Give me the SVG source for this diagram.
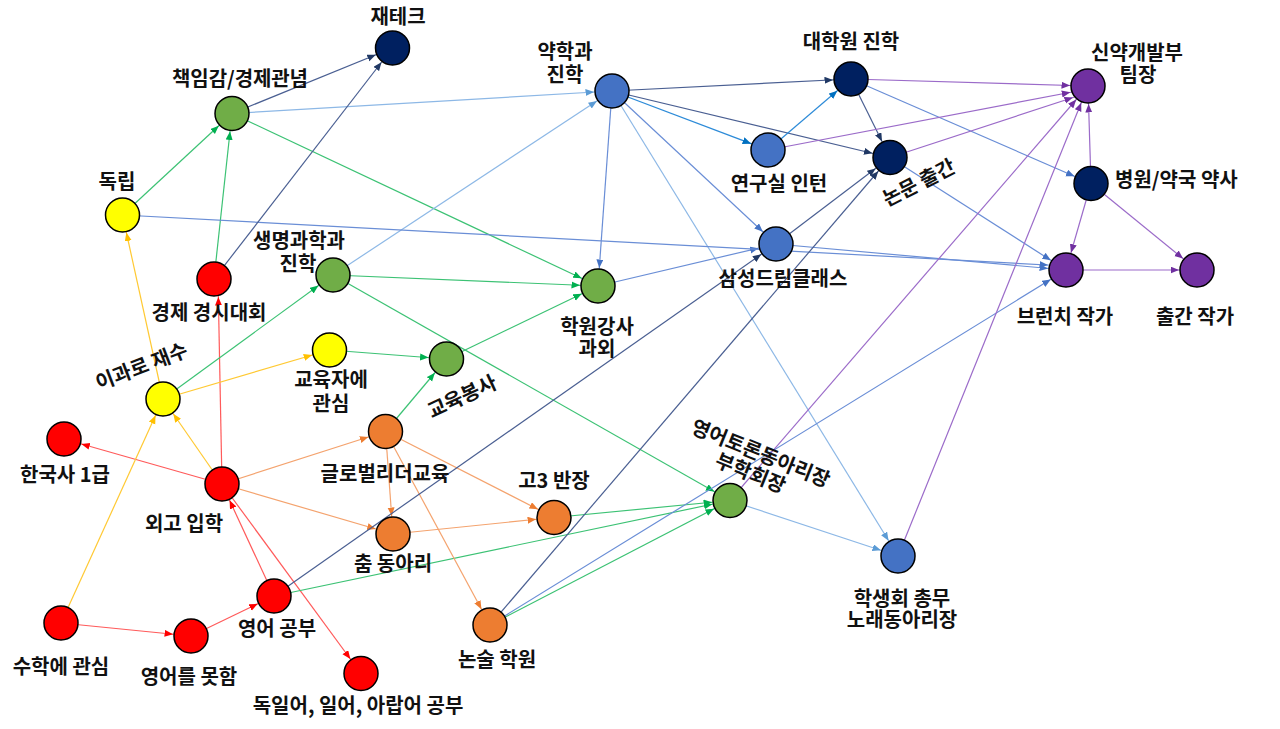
<svg xmlns="http://www.w3.org/2000/svg" width="1280" height="729" viewBox="0 0 1280 729">
<style>
.e{fill:none;stroke-width:1.2}
.red{stroke:#FF5A5A}.org{stroke:#F4A36E}.yel{stroke:#FFC933}.grn{stroke:#3CC274}
.lbl{stroke:#8DB8E6}.blu{stroke:#6A8ED6}.bb{stroke:#2D8BD8}.nav{stroke:#4A5F92}.pur{stroke:#9B6BC9}
.n{stroke:#000;stroke-width:1.5}
.cr{fill:#FF0000}.cy{fill:#FFFF00}.cg{fill:#70AD47}.co{fill:#ED7D31}.cb{fill:#4472C4}.cn{fill:#002060}.cp{fill:#7030A0}
.t{font-family:"Noto Sans CJK KR","Noto Sans",sans-serif;font-size:20px;font-weight:700;fill:#111;text-anchor:middle}
</style>
<defs>
<marker id="mr" markerUnits="userSpaceOnUse" markerWidth="9" markerHeight="8" refX="26.5" refY="3.5" orient="auto"><path d="M0,0 L8.5,3.5 L0,7 z" fill="#FF0000"/></marker>
<marker id="mo" markerUnits="userSpaceOnUse" markerWidth="9" markerHeight="8" refX="26.5" refY="3.5" orient="auto"><path d="M0,0 L8.5,3.5 L0,7 z" fill="#ED7D31"/></marker>
<marker id="my" markerUnits="userSpaceOnUse" markerWidth="9" markerHeight="8" refX="26.5" refY="3.5" orient="auto"><path d="M0,0 L8.5,3.5 L0,7 z" fill="#FFC000"/></marker>
<marker id="mg" markerUnits="userSpaceOnUse" markerWidth="9" markerHeight="8" refX="26.5" refY="3.5" orient="auto"><path d="M0,0 L8.5,3.5 L0,7 z" fill="#00B050"/></marker>
<marker id="ml" markerUnits="userSpaceOnUse" markerWidth="9" markerHeight="8" refX="26.5" refY="3.5" orient="auto"><path d="M0,0 L8.5,3.5 L0,7 z" fill="#5B9BD5"/></marker>
<marker id="mb" markerUnits="userSpaceOnUse" markerWidth="9" markerHeight="8" refX="26.5" refY="3.5" orient="auto"><path d="M0,0 L8.5,3.5 L0,7 z" fill="#4472C4"/></marker>
<marker id="mbb" markerUnits="userSpaceOnUse" markerWidth="9" markerHeight="8" refX="26.5" refY="3.5" orient="auto"><path d="M0,0 L8.5,3.5 L0,7 z" fill="#0070C0"/></marker>
<marker id="mn" markerUnits="userSpaceOnUse" markerWidth="9" markerHeight="8" refX="26.5" refY="3.5" orient="auto"><path d="M0,0 L8.5,3.5 L0,7 z" fill="#203864"/></marker>
<marker id="mp" markerUnits="userSpaceOnUse" markerWidth="9" markerHeight="8" refX="26.5" refY="3.5" orient="auto"><path d="M0,0 L8.5,3.5 L0,7 z" fill="#7030A0"/></marker>
</defs>
<rect width="1280" height="729" fill="#FFFFFF"/>
<g id="connectors">
<line class="e red" x1="222" y1="484" x2="64" y2="439" marker-end="url(#mr)"/>
<line class="e red" x1="222" y1="484" x2="218" y2="279" marker-end="url(#mr)"/>
<line class="e red" x1="222" y1="484" x2="361" y2="673.5" marker-end="url(#mr)"/>
<line class="e red" x1="274" y1="596" x2="222" y2="484" marker-end="url(#mr)"/>
<line class="e red" x1="191" y1="636" x2="274" y2="596" marker-end="url(#mr)"/>
<line class="e red" x1="61" y1="623" x2="191" y2="636" marker-end="url(#mr)"/>
<line class="e yel" x1="61" y1="623" x2="163" y2="399" marker-end="url(#my)"/>
<line class="e yel" x1="222" y1="484" x2="163" y2="399" marker-end="url(#my)"/>
<line class="e yel" x1="163" y1="399" x2="122.5" y2="215" marker-end="url(#my)"/>
<line class="e yel" x1="163" y1="399" x2="329.5" y2="350" marker-end="url(#my)"/>
<line class="e grn" x1="163" y1="399" x2="333" y2="275" marker-end="url(#mg)"/>
<line class="e grn" x1="122.5" y1="215" x2="232" y2="113.5" marker-end="url(#mg)"/>
<line class="e grn" x1="214" y1="279" x2="232" y2="113.5" marker-end="url(#mg)"/>
<line class="e grn" x1="232" y1="113.5" x2="598" y2="286" marker-end="url(#mg)"/>
<line class="e grn" x1="333" y1="275" x2="598" y2="286" marker-end="url(#mg)"/>
<line class="e grn" x1="333" y1="275" x2="730" y2="500.5" marker-end="url(#mg)"/>
<line class="e grn" x1="329.5" y1="350" x2="446.5" y2="359" marker-end="url(#mg)"/>
<line class="e grn" x1="385.5" y1="431.5" x2="446.5" y2="359" marker-end="url(#mg)"/>
<line class="e grn" x1="446.5" y1="359" x2="598" y2="286" marker-end="url(#mg)"/>
<line class="e grn" x1="554" y1="517.5" x2="730" y2="500.5" marker-end="url(#mg)"/>
<line class="e grn" x1="274" y1="596" x2="730" y2="500.5" marker-end="url(#mg)"/>
<line class="e grn" x1="490" y1="625" x2="730" y2="500.5" marker-end="url(#mg)"/>
<line class="e org" x1="222" y1="484" x2="385.5" y2="431.5" marker-end="url(#mo)"/>
<line class="e org" x1="222" y1="484" x2="393" y2="534" marker-end="url(#mo)"/>
<line class="e org" x1="385.5" y1="431.5" x2="393" y2="534" marker-end="url(#mo)"/>
<line class="e org" x1="385.5" y1="431.5" x2="554" y2="517.5" marker-end="url(#mo)"/>
<line class="e org" x1="385.5" y1="431.5" x2="490" y2="625" marker-end="url(#mo)"/>
<line class="e org" x1="393" y1="534" x2="554" y2="517.5" marker-end="url(#mo)"/>
<line class="e lbl" x1="232" y1="113.5" x2="612" y2="91" marker-end="url(#ml)"/>
<line class="e lbl" x1="333" y1="275" x2="612" y2="91" marker-end="url(#ml)"/>
<line class="e lbl" x1="612" y1="91" x2="898" y2="556" marker-end="url(#ml)"/>
<line class="e lbl" x1="730" y1="500.5" x2="898" y2="556" marker-end="url(#ml)"/>
<line class="e blu" x1="851" y1="79" x2="1091" y2="183.5" marker-end="url(#mb)"/>
<line class="e blu" x1="890" y1="157.5" x2="1066" y2="270" marker-end="url(#mb)"/>
<line class="e blu" x1="612" y1="91" x2="598" y2="286" marker-end="url(#mb)"/>
<line class="e blu" x1="612" y1="91" x2="776" y2="244" marker-end="url(#mb)"/>
<line class="e blu" x1="598" y1="286" x2="776" y2="244" marker-end="url(#mb)"/>
<line class="e blu" x1="776" y1="244" x2="1066" y2="270" marker-end="url(#mb)"/>
<line class="e blu" x1="122.5" y1="215" x2="1066" y2="266" marker-end="url(#mb)"/>
<line class="e blu" x1="490" y1="625" x2="1066" y2="270" marker-end="url(#mb)"/>
<line class="e nav" x1="232" y1="113.5" x2="392.5" y2="48" marker-end="url(#mn)"/>
<line class="e nav" x1="214" y1="279" x2="392.5" y2="48" marker-end="url(#mn)"/>
<line class="e nav" x1="274" y1="596" x2="776" y2="244" marker-end="url(#mn)"/>
<line class="e nav" x1="612" y1="91" x2="851" y2="79" marker-end="url(#mn)"/>
<line class="e nav" x1="612" y1="91" x2="890" y2="157.5" marker-end="url(#mn)"/>
<line class="e nav" x1="851" y1="79" x2="890" y2="157.5" marker-end="url(#mn)"/>
<line class="e nav" x1="776" y1="244" x2="890" y2="157.5" marker-end="url(#mn)"/>
<line class="e nav" x1="490" y1="625" x2="890" y2="157.5" marker-end="url(#mn)"/>
<line class="e bb" x1="768" y1="150" x2="851" y2="79" marker-end="url(#mbb)"/>
<line class="e bb" x1="612" y1="91" x2="768" y2="150" marker-end="url(#mbb)"/>
<line class="e pur" x1="851" y1="79" x2="1088" y2="86" marker-end="url(#mp)"/>
<line class="e pur" x1="768" y1="150" x2="1088" y2="89" marker-end="url(#mp)"/>
<line class="e pur" x1="890" y1="157.5" x2="1090" y2="92" marker-end="url(#mp)"/>
<line class="e pur" x1="730" y1="500.5" x2="1088" y2="86" marker-end="url(#mp)"/>
<line class="e pur" x1="898" y1="556" x2="1088" y2="86" marker-end="url(#mp)"/>
<line class="e pur" x1="1091" y1="183.5" x2="1088" y2="86" marker-end="url(#mp)"/>
<line class="e pur" x1="1091" y1="183.5" x2="1066" y2="270" marker-end="url(#mp)"/>
<line class="e pur" x1="1091" y1="183.5" x2="1197" y2="270" marker-end="url(#mp)"/>
<line class="e pur" x1="1066" y1="270" x2="1197" y2="270" marker-end="url(#mp)"/>
</g>
<g id="n-jaetech"><circle class="n cn" cx="392.5" cy="48" r="17"/><text class="t" x="398" y="24">재테크</text></g>
<g id="n-chaekim"><circle class="n cg" cx="232" cy="113.5" r="17"/><text class="t" x="240" y="86" textLength="136" lengthAdjust="spacing">책임감/경제관념</text></g>
<g id="n-dongrip"><circle class="n cy" cx="122.5" cy="215" r="17"/><text class="t" x="117" y="189">독립</text></g>
<g id="n-gyeongsi"><circle class="n cr" cx="214" cy="279" r="17"/><text class="t" x="209" y="320">경제 경시대회</text></g>
<g id="n-saengmyeong"><circle class="n cg" cx="333" cy="275" r="17"/><text class="t" x="299" y="248">생명과학과<tspan x="298" dy="23">진학</tspan></text></g>
<g id="n-igwa"><circle class="n cy" cx="163" cy="399" r="17"/><text class="t" transform="translate(144,373) rotate(-21)">이과로 재수</text></g>
<g id="n-gyoyukja"><circle class="n cy" cx="329.5" cy="350" r="17"/><text class="t" x="331" y="387">교육자에<tspan x="331" dy="24">관심</tspan></text></g>
<g id="n-bongsa"><circle class="n cg" cx="446.5" cy="359" r="17"/><text class="t" transform="translate(465,403) rotate(-25)">교육봉사</text></g>
<g id="n-hanguksa"><circle class="n cr" cx="64" cy="439" r="17"/><text class="t" x="65" y="482">한국사 1급</text></g>
<g id="n-oego"><circle class="n cr" cx="222" cy="484" r="17"/><text class="t" x="184" y="531">외고 입학</text></g>
<g id="n-global"><circle class="n co" cx="385.5" cy="431.5" r="17"/><text class="t" x="385" y="481">글로벌리더교육</text></g>
<g id="n-chum"><circle class="n co" cx="393" cy="534" r="17"/><text class="t" x="393" y="571">춤 동아리</text></g>
<g id="n-go3"><circle class="n co" cx="554" cy="517.5" r="17"/><text class="t" x="554" y="488">고3 반장</text></g>
<g id="n-nonsul"><circle class="n co" cx="490" cy="625" r="17"/><text class="t" x="497" y="667">논술 학원</text></g>
<g id="n-english"><circle class="n cr" cx="274" cy="596" r="17"/><text class="t" x="277" y="636">영어 공부</text></g>
<g id="n-math"><circle class="n cr" cx="61" cy="623" r="17"/><text class="t" x="61" y="674">수학에 관심</text></g>
<g id="n-poor"><circle class="n cr" cx="191" cy="636" r="17"/><text class="t" x="189" y="684">영어를 못함</text></g>
<g id="n-lang"><circle class="n cr" cx="361" cy="673.5" r="17"/><text class="t" x="358" y="713">독일어, 일어, 아랍어 공부</text></g>
<g id="n-pharm"><circle class="n cb" cx="612" cy="91" r="17"/><text class="t" x="565" y="59">약학과<tspan x="565" dy="23">진학</tspan></text></g>
<g id="n-academy"><circle class="n cg" cx="598" cy="286" r="17"/><text class="t" x="597" y="334">학원강사<tspan x="597" dy="22">과외</tspan></text></g>
<g id="n-samsung"><circle class="n cb" cx="776" cy="244" r="17"/><text class="t" x="783" y="286">삼성드림클래스</text></g>
<g id="n-lab"><circle class="n cb" cx="768" cy="150" r="17"/><text class="t" x="779" y="191">연구실 인턴</text></g>
<g id="n-grad"><circle class="n cn" cx="851" cy="79" r="17"/><text class="t" x="851" y="49">대학원 진학</text></g>
<g id="n-paper"><circle class="n cn" cx="890" cy="157.5" r="17"/><text class="t" transform="translate(922,189) rotate(-27)">논문 출간</text></g>
<g id="n-drug"><circle class="n cp" cx="1088" cy="86" r="17"/><text class="t" x="1137" y="60">신약개발부<tspan x="1138" dy="22">팀장</tspan></text></g>
<g id="n-hospital"><circle class="n cn" cx="1091" cy="183.5" r="17"/><text class="t" x="1115" y="187" style="text-anchor:start">병원/약국 약사</text></g>
<g id="n-brunch"><circle class="n cp" cx="1066" cy="270" r="17"/><text class="t" x="1065" y="324">브런치 작가</text></g>
<g id="n-publish"><circle class="n cp" cx="1197" cy="270" r="17"/><text class="t" x="1195" y="324">출간 작가</text></g>
<g id="n-debate"><circle class="n cg" cx="730" cy="500.5" r="17"/><text class="t" transform="translate(758,460) rotate(22)">영어토론동아리장<tspan x="-2" dy="22">부학회장</tspan></text></g>
<g id="n-council"><circle class="n cb" cx="898" cy="556" r="17"/><text class="t" x="902" y="606">학생회 총무<tspan x="902" dy="21">노래동아리장</tspan></text></g>
</svg>
